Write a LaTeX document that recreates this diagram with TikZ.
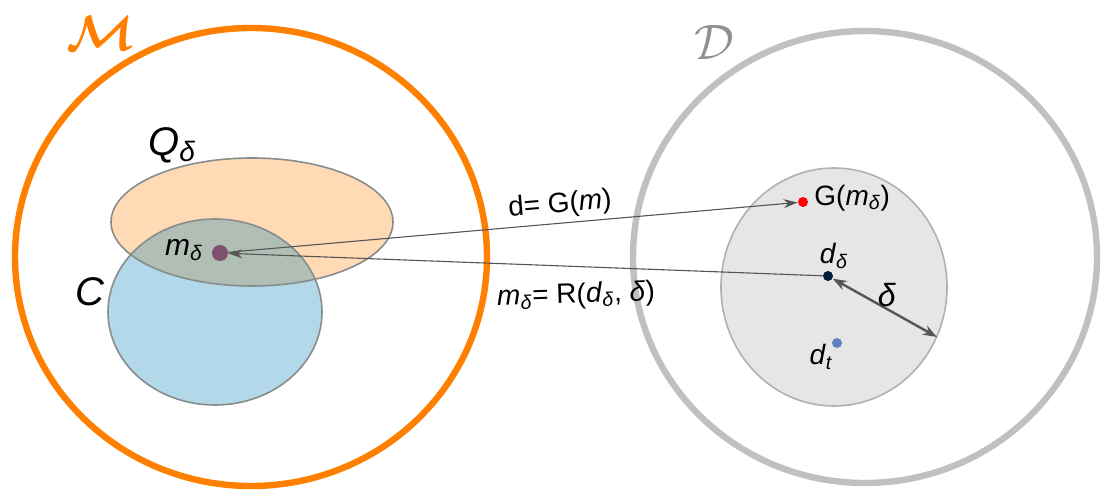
\documentclass[tikz,border=0pt]{standalone}
\usepackage{fontspec}
\setmainfont{Liberation Sans}
\usetikzlibrary{arrows.meta}
\definecolor{setorange}{RGB}{255,128,0}
\definecolor{setgray}{RGB}{192,192,192}
\definecolor{ballfill}{RGB}{230,230,230}
\definecolor{ballline}{RGB}{176,176,176}
\definecolor{qfill}{RGB}{255,218,180}
\definecolor{cfill}{RGB}{179,216,233}
\definecolor{overlapfill}{RGB}{176,190,182}
\definecolor{edgegray}{RGB}{135,140,140}
\definecolor{arrowgray}{RGB}{85,85,85}
\newcommand{\lowtxt}[1]{\textsubscript{\itshape #1}}
\begin{document}
\begin{tikzpicture}[x=0.5pt, y=-0.5pt,
  dot/.style={circle, inner sep=0pt, minimum size=5pt},
  conn/.style={draw=arrowgray, line width=0.55pt, -{Stealth[length=7pt, width=4.5pt]}},
  lbl/.style={font=\fontsize{14}{16}\selectfont, inner sep=1pt}]
  \useasboundingbox (0,0) rectangle (1104,492);
  % grosse Mengen
  \draw[setorange, line width=3.2pt] (251,257) ellipse [x radius=236, y radius=229];
  \draw[setgray, line width=3.2pt] (865,257) ellipse [x radius=232, y radius=226];
  \node[setorange, inner sep=0pt, font=\fontsize{32}{32}\selectfont\boldmath] (mlbl) at (101,33) {$\mathcal{M}$};
  \node[setgray!75!black, font=\fontsize{25}{25}\selectfont] (dlbl) at (714,42) {$\mathcal{D}$};
  % Kugel um d_delta
  \draw[ballline, fill=ballfill, line width=0.8pt] (834,287) ellipse [x radius=113, y radius=119];
  % Q und C
  \fill[qfill] (252,222) ellipse [x radius=141, y radius=64];
  \fill[cfill] (215,312) ellipse [x radius=107, y radius=93];
  \begin{scope}
    \clip (252,222) ellipse [x radius=141, y radius=64];
    \fill[overlapfill] (215,312) ellipse [x radius=107, y radius=93];
  \end{scope}
  \draw[edgegray, line width=0.8pt] (252,222) ellipse [x radius=141, y radius=64];
  \draw[edgegray, line width=0.8pt] (215,312) ellipse [x radius=107, y radius=93];
  \node[font=\fontsize{20}{22}\selectfont] (qlbl) at (172,145) {\textit{Q}\lowtxt{δ}};
  \node[font=\fontsize{20}{22}\selectfont] (clbl) at (90,292) {\textit{C}};
  % Punkte
  \node[dot, fill={rgb,255:red,128;green,80;blue,110}, minimum size=8pt] (md) at (220,253) {};
  \node[dot, fill=red] (gm) at (803,202) {};
  \node[dot, fill={rgb,255:red,0;green,30;blue,60}] (dd) at (828,276) {};
  \node[dot, fill={rgb,255:red,90;green,130;blue,190}] (dt) at (837,343) {};
  \coordinate (rim) at (937,337);
  \node[lbl, font=\fontsize{15}{17}\selectfont] (mdlbl) at (184,250) {\textit{m}\lowtxt{δ}};
  \node[lbl, anchor=west] (gmlbl) at (812,198) {G(\textit{m}\lowtxt{δ})};
  \node[lbl] (ddlbl) at (834,256) {\textit{d}\lowtxt{δ}};
  \node[lbl] (dtlbl) at (821,357) {\textit{d}\lowtxt{t}};
  % Abbildungen
  \draw[conn] (md) -- (gm);
  \draw[conn] (dd) -- (md);
  \draw[draw=arrowgray, line width=1.2pt, {Stealth[length=7pt, width=5pt]}-{Stealth[length=7pt, width=5pt]}] (dd) -- (rim);
  \node[lbl, rotate=5] (fwd) at (560,205) {d= G(\textit{m})};
  \node[lbl, rotate=2] (inv) at (576,296) {\textit{m}\lowtxt{δ}= R(\textit{d}\lowtxt{δ}, \textit{δ})};
  \node[lbl, font=\fontsize{16}{18}\selectfont] (rad) at (887,295) {\textit{δ}};
\end{tikzpicture}
\end{document}
